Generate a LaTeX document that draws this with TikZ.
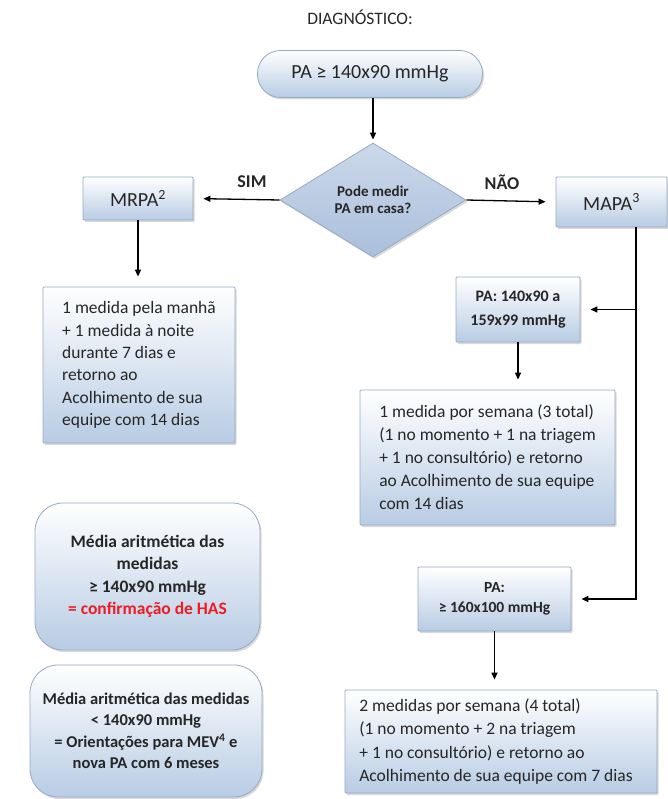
\documentclass[tikz,border=0pt]{standalone}
\usepackage{fontspec}
\setmainfont{Carlito}
\usepackage{tikz}
\usetikzlibrary{shapes.geometric,shadows,arrows.meta}
\definecolor{azulcaixa}{RGB}{184,204,228}
\definecolor{azullosango}{RGB}{170,191,220}
\definecolor{bordacaixa}{RGB}{150,170,196}
\definecolor{texto}{RGB}{38,38,38}
\definecolor{vermelho}{RGB}{236,28,36}
\newcommand{\tamanho}[2]{\fontsize{#1}{#2}\selectfont}

\begin{document}
\begin{tikzpicture}[x=1pt,y=-1pt,
  caixa/.style={draw=bordacaixa, line width=0.8pt, rounded corners=1pt, top color=white, bottom color=azulcaixa,
    drop shadow={shadow xshift=1.5pt, shadow yshift=-2pt, opacity=0.3}, text=texto, inner sep=0pt},
  losango/.style={diamond, aspect=1.6, draw=bordacaixa, line width=0.8pt, top color=azullosango!60!white, bottom color=azullosango,
    drop shadow={shadow xshift=1.5pt, shadow yshift=-2pt, opacity=0.3}, text=texto, inner sep=0pt},
  rotulo/.style={text=texto, font=\bfseries\tamanho{18}{21}},
  seta/.style={-{Triangle[length=7pt,width=6pt]}, line width=1.3pt, shorten >=10pt}]
\useasboundingbox (0,0) rectangle (668,799);
\node[text=texto, font=\tamanho{17.5}{20}] (titulo) at (360,17) {DIAGNÓSTICO:};
\node[caixa, rounded corners=23pt, minimum width=225pt, minimum height=47pt, font=\tamanho{20}{24}] (topo) at (370,74) {PA ≥ 140x90 mmHg};
\node[losango, minimum width=186pt, minimum height=114pt, align=center, font=\bfseries\tamanho{15}{17.5}] (decisao) at (373,200) {Pode medir\\PA em casa?};
\node[caixa, minimum width=110pt, minimum height=43pt, font=\tamanho{20}{24}] (mrpa) at (138,198.5) {MRPA\textsuperscript{2}};
\node[caixa, minimum width=111pt, minimum height=50pt, font=\tamanho{20}{24}] (mapa) at (611.5,202) {MAPA\textsuperscript{3}};
\node[rotulo] (sim) at (252,182) {SIM};
\node[rotulo] (nao) at (502,182) {NÃO};
\node[caixa, minimum width=192pt, minimum height=156pt, align=left, font=\tamanho{17.5}{22.3}] (medidas1) at (139,365)
  {1 medida pela manhã\\+ 1 medida à noite\\durante 7 dias e\\retorno ao\\Acolhimento de sua\\equipe com 14 dias};
\node[caixa, minimum width=124pt, minimum height=65pt, align=center, font=\bfseries\tamanho{16}{24}] (faixa1) at (518,309.5) {PA: 140x90 a\\159x99 mmHg};
\node[caixa, minimum width=255pt, minimum height=135pt, align=left, font=\tamanho{17.5}{23}] (semana1) at (487.5,457.5)
  {1 medida por semana (3 total)\\(1 no momento + 1 na triagem\\+ 1 no consultório) e retorno\\ao Acolhimento de sua equipe\\com 14 dias};
\node[caixa, minimum width=153pt, minimum height=64pt, align=center, font=\bfseries\tamanho{15.5}{20}] (faixa2) at (494.5,599) {PA:\\≥ 160x100 mmHg};
\node[caixa, minimum width=312pt, minimum height=103pt, align=left, font=\tamanho{17.5}{23.3}] (semana2) at (501,741.5)
  {2 medidas por semana (4 total)\\(1 no momento + 2 na triagem\\+ 1 no consultório) e retorno ao\\Acolhimento de sua equipe com 7 dias\hspace*{10pt}};
\node[caixa, rounded corners=28pt, minimum width=225pt, minimum height=147pt, align=center, font=\bfseries\tamanho{17.5}{22.5}] (media1) at (147.5,576.5)
  {Média aritmética das\\medidas\\≥ 140x90 mmHg\\\textcolor{vermelho}{= confirmação de HAS}};
\node[caixa, rounded corners=28pt, minimum width=232pt, minimum height=132pt, align=center, font=\bfseries\tamanho{16.5}{21.5}] (media2) at (146,731)
  {Média aritmética das medidas\\< 140x90 mmHg\\= Orientações para MEV\textsuperscript{4} e\\nova PA com 6 meses};
\coordinate (tronco) at (636,599);
\draw[seta, shorten >=3pt] (topo.south -| decisao.north) -- (decisao.north);
\draw[seta] (decisao.west) -- (mrpa.east);
\draw[seta] (decisao.east) -- (mapa.west);
\draw[seta] (mrpa.south) -- (mrpa.south |- medidas1.north);
\draw[seta] (mapa.south -| tronco) |- (faixa2.east);
\draw[seta] (faixa1.east -| tronco) -- (faixa1.east);
\draw[seta] (faixa1.south) -- (faixa1.south |- semana1.north);
\draw[seta] (faixa2.south) -- (faixa2.south |- semana2.north);
\end{tikzpicture}
\end{document}
